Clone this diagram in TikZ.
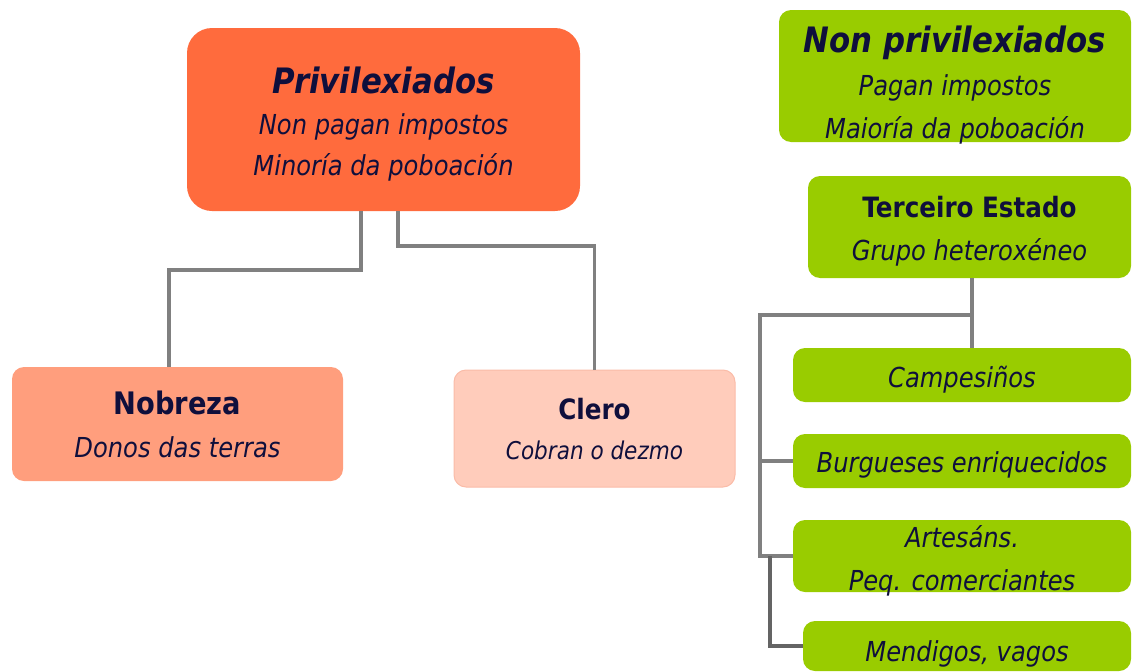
\documentclass[tikz,border=0pt]{standalone}
\usepackage{fontspec}
\setmainfont{DejaVu Sans}[FakeStretch=0.88]
\definecolor{privcolor}{RGB}{255,107,61}
\definecolor{nobcolor}{RGB}{255,158,125}
\definecolor{clerocolor}{RGB}{255,204,187}
\definecolor{clerodraw}{RGB}{250,188,168}
\definecolor{estadocolor}{RGB}{153,204,0}
\definecolor{txtcolor}{RGB}{15,15,60}
\definecolor{linkcolor}{RGB}{128,128,128}
\definecolor{linkdark}{RGB}{100,100,100}
\tikzset{
  grupo/.style={rounded corners=12pt, text=txtcolor, align=center, inner sep=0pt,
    text depth=0pt, font=\fontsize{27.5}{43}\selectfont},
  link/.style={draw=linkcolor, line width=3.5pt},
}
\newcommand{\titulo}[1]{{\bfseries\itshape\fontsize{35}{43}\selectfont #1}}
\newcommand{\nome}[2]{{\bfseries\fontsize{#1}{43}\selectfont #2}}

\begin{document}
\begin{tikzpicture}[x=1pt,y=-1pt]
        \useasboundingbox (0,0) rectangle (1133,672);
        % privilexiados
        \draw (383.5,119.5) node[grupo,fill=privcolor,rounded corners=25pt,minimum width=393pt,minimum height=183pt,text height=112.6pt,font=\fontsize{27.5}{41}\selectfont] (priv) {\titulo{Privilexiados}\\ \textit{Non pagan impostos}\\ \textit{Minoría da poboación}};
        \draw (177.5,424) node[grupo,fill=nobcolor,minimum width=331pt,minimum height=114pt] (nob) {\nome{31}{Nobreza}\\ \textit{Donos das terras}};
        \draw (594.5,428.5) node[grupo,fill=clerocolor,draw=clerodraw,line width=1pt,minimum width=281pt,minimum height=117pt,font=\fontsize{24.5}{40}\selectfont] (clero) {\nome{28}{Clero}\\ \textit{Cobran o dezmo}};
        % non privilexiados
        \draw (955,76) node[grupo,fill=estadocolor,minimum width=352pt,minimum height=132pt,text height=124.6pt] (nonpriv) {\titulo{Non privilexiados}\\ \textit{Pagan impostos}\\ \textit{Maioría da poboación}};
        \draw (969.5,227) node[grupo,fill=estadocolor,minimum width=323pt,minimum height=102pt,text height=66.3pt] (terc) {\nome{28}{Terceiro Estado}\\ \textit{Grupo heteroxéneo}};
        \draw (962,375) node[grupo,fill=estadocolor,minimum width=338pt,minimum height=54pt,text height=25.7pt] (camp) {\textit{Campesiños}};
        \draw (962,461) node[grupo,fill=estadocolor,minimum width=338pt,minimum height=54pt,text height=22.9pt] (burg) {\textit{Burgueses enriquecidos}};
        \draw (962,556) node[grupo,fill=estadocolor,minimum width=338pt,minimum height=72pt,text height=69.5pt] (art) {\textit{Artesáns.}\\ \textit{Peq. comerciantes}};
        \draw (967,646) node[grupo,fill=estadocolor,minimum width=328pt,minimum height=50pt,text height=30.9pt] (mend) {\textit{Mendigos, vagos}};
        \coordinate (ramal) at ([xshift=2.5pt,yshift=-37pt]terc.south);
        \draw[link] ([xshift=-22.5pt]priv.south) -- ++(0,59) -| ([xshift=-8.5pt]nob.north)
              ([xshift=14.5pt]priv.south) -- ++(0,35) -| (clero.north)
              ([xshift=2.5pt]terc.south) -- ([xshift=10pt]camp.north)
              (ramal) -| ([xshift=-33pt]art.west) -- (art.west)
              ([xshift=-33pt]burg.west) -- (burg.west);
        \draw[link,draw=linkdark] ([xshift=-23pt]art.west) |- (mend.west);
    \end{tikzpicture}
\end{document}
